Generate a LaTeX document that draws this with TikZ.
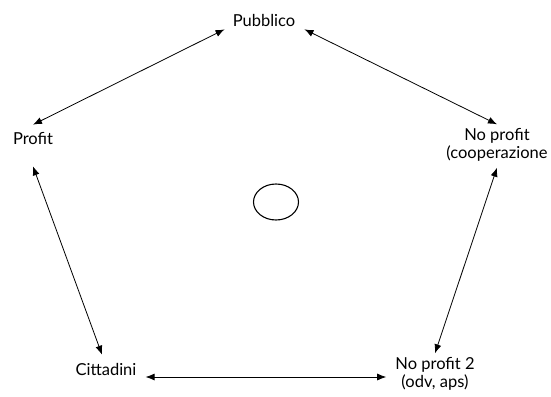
\documentclass[tikz,border=0pt]{standalone}
\usepackage{fontspec}
\setmainfont{Lato}
\usetikzlibrary{arrows.meta, shapes.geometric}

\begin{document}
\begin{tikzpicture}[x=1pt, y=-1pt,
    actor/.style={font=\fontsize{16.5}{18}\selectfont, align=center, inner sep=3pt},
    link/.style={line width=0.8pt, {Latex[length=9pt,width=7pt]}-{Latex[length=9pt,width=7pt]}}]

    \useasboundingbox (0,0) rectangle (551,396);

    % Actors
    \node[actor] (pub)  at (264, 20)  {Pubblico};
    \node[actor] (prof) at (33, 138)  {Profit};
    \node[actor] (nop)  at (497, 145) {No profit\\(cooperazione};
    \node[actor] (nop2) at (435, 374) {No profit 2\\(odv, aps)};
    \node[actor] (cit)  at (106, 369) {Cittadini};

    % Centre
    \node[draw, ellipse, line width=1.1pt, minimum width=45pt, minimum height=36pt] (centro) at (276, 202) {};

    % Relations
    \draw[link] ([yshift=4pt]prof.north) -- ([xshift=-5pt]pub.south west);
    \draw[link] ([xshift=6pt]pub.south east) -- ([yshift=1pt]nop.north);
    \draw[link] ([yshift=-3pt]nop.south) -- ([yshift=1pt]nop2.north);
    \draw[link] ([shift={(-6pt,-3pt)}]nop2.west) -- ([shift={(6pt,-8pt)}]cit.east);
    \draw[link] ([yshift=-19pt]prof.south) -- ([shift={(-4pt,5pt)}]cit.north);

\end{tikzpicture}
\end{document}
